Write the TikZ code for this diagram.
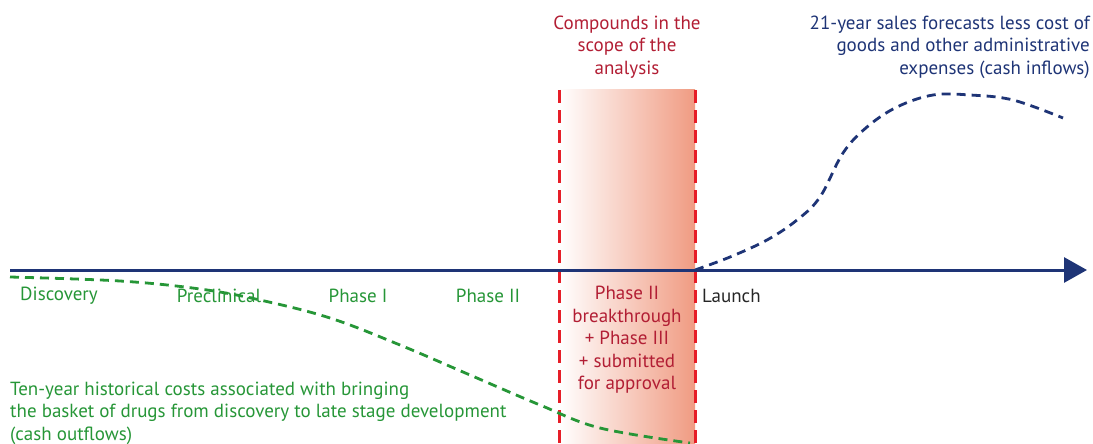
\documentclass[tikz,border=0pt]{standalone}
\usepackage{fontspec}
\setmainfont{PT Sans}
\usetikzlibrary{positioning,arrows.meta}
\definecolor{axisblue}{RGB}{30,52,118}
\definecolor{scopered}{RGB}{178,30,52}
\definecolor{linered}{RGB}{230,30,40}
\definecolor{bandred}{RGB}{240,155,130}
\definecolor{costgreen}{RGB}{38,150,55}
\tikzset{
	lbl/.style={font=\fontsize{19}{22.5}\selectfont, inner sep=0pt},
	scopeline/.style={line width=3pt, dash pattern=on 13pt off 7pt},
	flow/.style={line width=2.8pt, dash pattern=on 9pt off 6pt}
}
\begin{document}
\begin{tikzpicture}[x=1pt,y=-1pt]
	\useasboundingbox (0,0) rectangle (1093,444);
	\coordinate (start) at (10,270);
	\coordinate (launch) at (695,270);
	\coordinate (finish) at (1087,270);
	\coordinate (bandtop) at (559,90);
	\shade[left color=white, right color=bandred] (bandtop) rectangle (695,444);
	\draw[scopeline][linered](559,90)--(559,444);
	\draw[scopeline][linered](695,90)--(695,444);
	\draw[line width=3pt][axisblue, -{Triangle[length=23pt,width=25pt]}](start)--(finish);

	\node[lbl, costgreen] (discovery) at (59,296) {Discovery};
	\node[lbl, costgreen] (preclinical) at (219,296) {Preclinical};
	\node[lbl, costgreen] (phasei) at (358,296) {Phase I};
	\node[lbl, costgreen] (phaseii) at (488,296) {Phase II};
	\node[lbl, anchor=west][black!85] (launchlbl) at (702,296) {Launch};
	\node[lbl, align=center][scopered] (scopephases) at (627,340) {Phase II\\breakthrough\\+ Phase III\\+ submitted\\for approval};
	\node[lbl, align=center][scopered] (scope) at (627,47) {Compounds in the\\scope of the\\analysis};
	\node[lbl, align=right, anchor=east][axisblue] (inflows) at (1090,47) {21-year sales forecasts less cost of\\goods and other administrative\\expenses (cash inflows)};
	\node[lbl, align=left, anchor=west][costgreen] (outflows) at (10,413) {Ten-year historical costs associated with bringing\\the basket of drugs from discovery to late stage development\\(cash outflows)};

	\draw[flow][axisblue] plot[smooth, tension=0.6] coordinates {(launch) (730,257) (767,240) (797,220) (820,197) (843,153) (867,127) (897,107) (933,95) (970,95) (1013,100) (1063,118)};
	\draw[flow][costgreen] plot[smooth, tension=0.6] coordinates {(10,277) (120,281) (200,289) (260,300) (330,318) (400,345) (470,375) (540,405) (600,428) (690,443)};
\end{tikzpicture}
\end{document}
